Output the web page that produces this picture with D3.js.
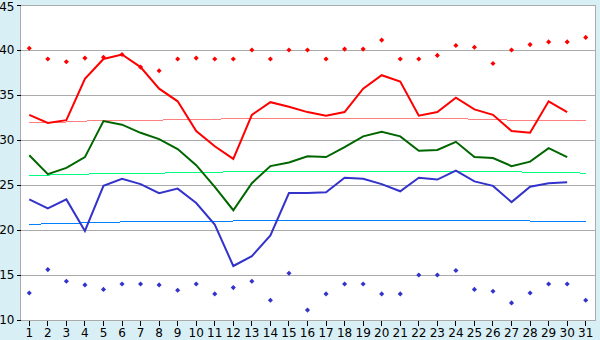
<!DOCTYPE html>
<html>
<head>
<meta charset="utf-8">
<script src="https://cdn.jsdelivr.net/npm/d3@7"></script>
<style>
  body { margin: 0; background: #d9eff6; }
  svg { display: block; }
  text { font-family: "DejaVu Sans", Verdana, sans-serif; font-size: 12px; fill: #000; }
</style>
</head>
<body>
<svg id="vis" width="600" height="340"></svg>
<script>
// dias del mes
const days = d3.range(1, 32);
const yTicks = [10, 15, 20, 25, 30, 35, 40, 45];

// maximas diarias
const tMax = [32.8, 31.9, 32.2, 36.8, 39.0, 39.5, 38.1, 35.7, 34.3, 31.0,
  29.3, 27.9, 32.8, 34.2, 33.7, 33.1, 32.7, 33.1, 35.7, 37.2,
  36.5, 32.7, 33.1, 34.7, 33.4, 32.8, 31.0, 30.8, 34.3, 33.1];
// medias diarias
const tMean = [28.3, 26.2, 26.9, 28.1, 32.1, 31.7, 30.8, 30.1, 29.0, 27.2,
  24.8, 22.2, 25.2, 27.1, 27.5, 28.2, 28.1, 29.2, 30.4, 30.9,
  30.4, 28.8, 28.9, 29.8, 28.1, 28.0, 27.1, 27.6, 29.1, 28.1];
// minimas diarias
const tMin = [23.4, 22.4, 23.4, 19.9, 24.9, 25.7, 25.1, 24.1, 24.6, 23.0,
  20.6, 16.0, 17.1, 19.4, 24.1, 24.1, 24.2, 25.8, 25.7, 25.1,
  24.3, 25.8, 25.6, 26.6, 25.4, 24.9, 23.1, 24.8, 25.2, 25.3];

// records
const recMax = [40.2, 39.0, 38.7, 39.1, 39.2, 39.5, 38.1, 37.7, 39.0, 39.1,
  39.0, 39.0, 40.0, 39.0, 40.0, 40.0, 39.0, 40.1, 40.1, 41.1,
  39.0, 39.0, 39.4, 40.5, 40.3, 38.5, 40.0, 40.6, 40.9, 40.9, 41.4];
const recMin = [13.0, 15.6, 14.3, 13.9, 13.4, 14.0, 14.0, 13.9, 13.3, 14.0,
  12.9, 13.6, 14.3, 12.2, 15.2, 11.1, 12.9, 14.0, 14.0, 12.9,
  12.9, 15.0, 15.0, 15.5, 13.4, 13.2, 11.9, 13.0, 14.0, 14.0, 12.2];

// normales
const normMax = [32.0, 32.0, 32.0, 32.1, 32.2, 32.2, 32.2, 32.2, 32.3, 32.3,
  32.3, 32.4, 32.4, 32.4, 32.4, 32.4, 32.4, 32.4, 32.4, 32.4,
  32.4, 32.4, 32.4, 32.4, 32.3, 32.3, 32.2, 32.2, 32.2, 32.2, 32.2];
const normMean = [26.0, 26.1, 26.2, 26.2, 26.3, 26.3, 26.3, 26.3, 26.4, 26.4,
  26.4, 26.5, 26.5, 26.5, 26.5, 26.5, 26.5, 26.5, 26.5, 26.5,
  26.5, 26.5, 26.5, 26.5, 26.5, 26.5, 26.5, 26.4, 26.4, 26.4, 26.3];
const normMin = [20.6, 20.7, 20.7, 20.8, 20.8, 20.9, 20.9, 21.0, 21.0, 21.0,
  21.0, 21.0, 21.1, 21.1, 21.1, 21.1, 21.1, 21.1, 21.1, 21.1,
  21.1, 21.1, 21.1, 21.1, 21.1, 21.1, 21.1, 21.0, 21.0, 21.0, 21.0];

const SVG = d3.select("#vis");
const mLeft = 20, mRight = 595, mTop = 5, mBottom = 320;

const x = d3.scaleBand().domain(days).range([mLeft, mRight]);
const cx = d => x(d) + x.bandwidth() / 2;
const y = d3.scaleLinear().domain([10, 45]).range([mBottom, mTop]);

// fondo del grafico
SVG.append("rect")
  .attr("x", mLeft + 0.5).attr("y", mTop + 0.5)
  .attr("width", mRight - mLeft).attr("height", mBottom - mTop)
  .attr("fill", "#fff").attr("stroke", "#aaa");

// lineas de la grilla
SVG.append("g")
  .selectAll("line")
  .data(yTicks)
  .join("line")
  .attr("x1", mLeft).attr("x2", mRight)
  .attr("y1", d => y(d) + 0.5).attr("y2", d => y(d) + 0.5)
  .attr("stroke", "#aaa")
  .attr("shape-rendering", "crispEdges");

// ejes
const gy = SVG.append("g")
  .attr("transform", `translate(${mLeft + 0.5},0)`)
  .call(d3.axisLeft(y).tickValues(yTicks).tickSize(4).tickPadding(2));
const gx = SVG.append("g")
  .attr("transform", `translate(0,${mBottom + 0.5})`)
  .call(d3.axisBottom(x).tickSize(5).tickPadding(3));
[gy, gx].forEach(g => {
  g.select(".domain").remove();
  g.selectAll(".tick line").attr("stroke", "#000").attr("shape-rendering", "crispEdges");
  g.selectAll("text").attr("font-family", "DejaVu Sans, Verdana, sans-serif").attr("font-size", 12);
});
// el 45 queda pegado arriba
gy.selectAll(".tick text").filter(d => d === 45).attr("dy", "0.45em");

// dibuja una serie como linea
function serie(vals, color, width) {
  SVG.append("path")
    .datum(vals)
    .attr("fill", "none")
    .attr("stroke", color)
    .attr("stroke-width", width)
    .attr("shape-rendering", width === 1 ? "crispEdges" : null)
    .attr("d", d3.line().x((d, i) => cx(days[i])).y(d => y(d)));
}

serie(normMax, "#ff8080", 1);
serie(normMean, "#00ff80", 1);
serie(normMin, "#0080ff", 1);
serie(tMax, "#ff0000", 2);
serie(tMean, "#006600", 2);
serie(tMin, "#3333cc", 2);

// records como rombos
function puntos(vals, color) {
  SVG.append("g")
    .selectAll("path")
    .data(vals)
    .join("path")
    .attr("transform", (d, i) => `translate(${cx(days[i])},${y(d)}) rotate(45)`)
    .attr("d", d3.symbol(d3.symbolSquare, 13))
    .attr("fill", color);
}

puntos(recMax, "#ff0000");
puntos(recMin, "#3333cc");
</script>
</body>
</html>
